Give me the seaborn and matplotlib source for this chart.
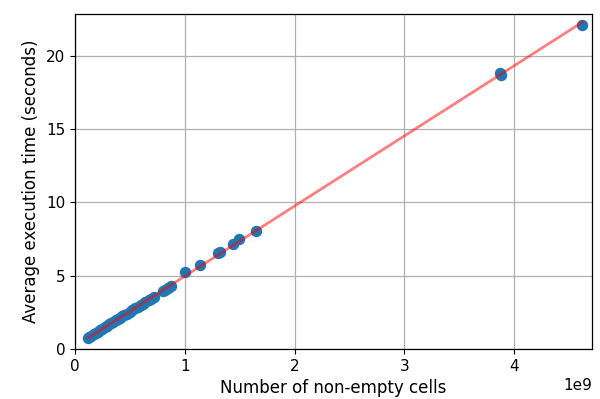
import matplotlib
matplotlib.use("Agg")
import matplotlib.pyplot as plt
import seaborn as sns
import numpy as np
import pandas as pd

# Number of non-empty cells (in units of 1e9)
cells_e9 = [0.12, 0.13, 0.15, 0.17, 0.19, 0.21, 0.23, 0.25, 0.27, 0.29, 0.31, 0.33,
            0.35, 0.37, 0.39, 0.41, 0.43, 0.45, 0.47, 0.50, 0.52, 0.55, 0.57, 0.60,
            0.62, 0.64, 0.67, 0.69, 0.72, 0.80, 0.82, 0.85, 0.87,
            1.00, 1.14, 1.30, 1.32, 1.44, 1.49, 1.65, 3.87, 3.88, 4.62]
# Average execution time (seconds)
exec_time = [0.75, 0.82, 0.90, 1.00, 1.10, 1.20, 1.30, 1.40, 1.50, 1.60, 1.68, 1.78,
             1.87, 1.97, 2.05, 2.15, 2.25, 2.35, 2.42, 2.55, 2.65, 2.80, 2.88, 3.00,
             3.10, 3.20, 3.35, 3.42, 3.55, 3.95, 4.05, 4.20, 4.30,
             5.23, 5.73, 6.52, 6.63, 7.20, 7.48, 8.07, 18.85, 18.70, 22.10]

df = pd.DataFrame({"cells": np.array(cells_e9) * 1e9, "time": exec_time})

fig = plt.figure(figsize=(6.0, 3.99), dpi=100)
ax = fig.add_axes([0.125, 0.125, 0.862, 0.84])

sns.regplot(data=df, x="cells", y="time", ax=ax, ci=None, truncate=True,
            scatter_kws={"s": 52, "color": "#1f77b4", "alpha": 1.0, "zorder": 2},
            line_kws={"color": "red", "alpha": 0.5, "linewidth": 2, "zorder": 3})

ax.set_xlim(0, 4.71e9)
ax.set_ylim(0, 22.85)
ax.set_yticks([0, 5, 10, 15, 20])
ax.set_xticks([0, 1e9, 2e9, 3e9, 4e9])
ax.grid(True, color="#b0b0b0", linewidth=0.9)
ax.set_axisbelow(True)
ax.set_xlabel("Number of non-empty cells", fontsize=12)
ax.set_ylabel("Average execution time (seconds)", fontsize=12)
ax.tick_params(labelsize=11)
ax.xaxis.get_offset_text().set_fontsize(11)
for s in ax.spines.values():
    s.set_color("black")
    s.set_linewidth(0.9)

fig.savefig("out.png", dpi=100)
